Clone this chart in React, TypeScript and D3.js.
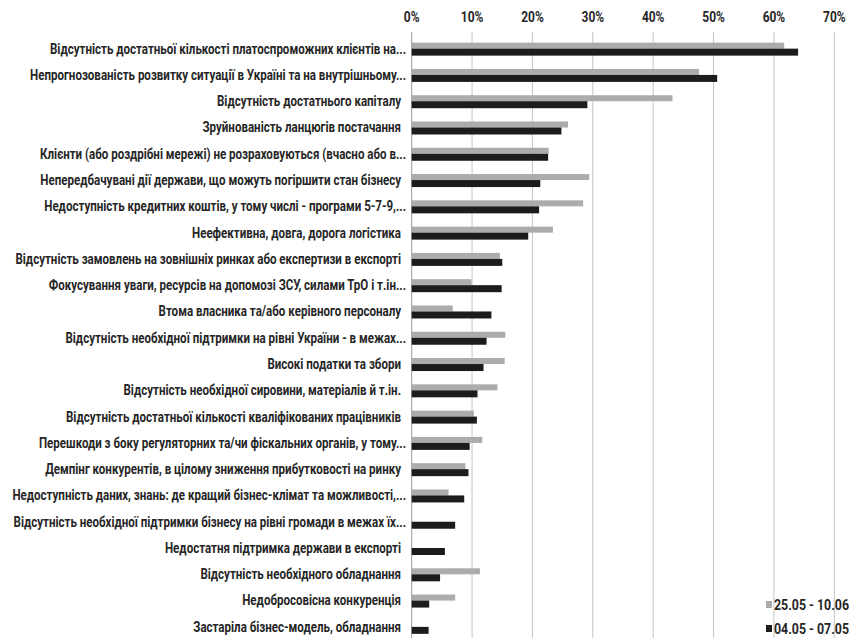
import React from "react";
import * as d3 from "d3";

const categories = [
  "Відсутність достатньої кількості платоспроможних клієнтів на...",
  "Непрогнозованість розвитку ситуації в Україні та на внутрішньому...",
  "Відсутність достатнього капіталу",
  "Зруйнованість ланцюгів постачання",
  "Клієнти (або роздрібні мережі) не розраховуються (вчасно або в...",
  "Непередбачувані дії держави, що можуть погіршити стан бізнесу",
  "Недоступність кредитних коштів, у тому числі - програми 5-7-9,...",
  "Неефективна, довга, дорога логістика",
  "Відсутність замовлень на зовнішніх ринках або експертизи в експорті",
  "Фокусування уваги, ресурсів на допомозі ЗСУ, силами ТрО і т.ін...",
  "Втома власника та/або керівного персоналу",
  "Відсутність необхідної підтримки на рівні України - в межах...",
  "Високі податки та збори",
  "Відсутність необхідної сировини, матеріалів й т.ін.",
  "Відсутність достатньої кількості кваліфікованих працівників",
  "Перешкоди з боку регуляторних та/чи фіскальних органів, у тому...",
  "Демпінг конкурентів, в цілому зниження прибутковості на ринку",
  "Недоступність даних, знань: де кращий бізнес-клімат та можливості,...",
  "Відсутність необхідної підтримки бізнесу на рівні громади в межах їх...",
  "Недостатня підтримка держави в експорті",
  "Відсутність необхідного обладнання",
  "Недобросовісна конкуренція",
  "Застаріла бізнес-модель, обладнання",
];

const series1Name = "25.05 - 10.06";
const series1 = [61.7, 47.6, 43.2, 25.9, 22.7, 29.4, 28.4, 23.4, 14.6, 9.9, 6.8, 15.5, 15.4, 14.2, 10.3, 11.7, 8.9, 6.1, 0, 0, 11.3, 7.2, 0];

const series2Name = "04.05 - 07.05";
const series2 = [64.0, 50.6, 29.1, 24.8, 22.6, 21.3, 21.1, 19.3, 15.0, 14.9, 13.2, 12.4, 11.9, 10.9, 10.8, 9.6, 9.4, 8.7, 7.2, 5.5, 4.7, 2.9, 2.8];

const ticks = [0, 10, 20, 30, 40, 50, 60, 70];

const W = 849;
const H = 638;
const FONT = "Roboto, 'Liberation Sans', sans-serif";
const SX = 0.825;

export default function App() {
  const x = d3.scaleLinear().domain([0, 70]).range([411.7, 834.3]);
  const y = d3
    .scaleBand<string>()
    .domain(categories)
    .range([35.5, 640])
    .paddingInner(0)
    .paddingOuter(0);
  const bw = y.bandwidth();
  const h1 = 6;
  const h2 = 7;

  const txt = (
    s: string,
    tx: number,
    ty: number,
    anchor: "start" | "middle" | "end",
    size: number
  ) => (
    <text
      transform={`translate(${tx},${ty}) scale(${SX},1)`}
      dy="0.35em"
      textAnchor={anchor}
      fontFamily={FONT}
      fontSize={size}
      fontWeight="bold"
      fill="#262626"
    >
      {s}
    </text>
  );

  return (
    <svg
      width={W}
      height={H}
      style={{ position: "absolute", left: 0, top: 0, background: "#fff" }}
    >
      {ticks.map((t) => (
        <g key={t}>
          <line
            x1={x(t)}
            x2={x(t)}
            y1={32}
            y2={H}
            stroke={t === 0 ? "#9a9a9a" : "#c4c4c4"}
            strokeWidth={1}
          />
          {txt(`${t}%`, x(t), 17, "middle", 14.5)}
        </g>
      ))}
      {categories.map((c, i) => {
        const cy = (y(c) as number) + bw / 2;
        const ell = c.endsWith("...");
        return (
          <g key={c}>
            {txt(c, ell ? 406 : 401, cy, "end", 14)}
            {series1[i] > 0 && (
              <rect
                x={x(0)}
                y={cy - h1}
                width={x(series1[i]) - x(0)}
                height={h1}
                fill="#acacac"
              />
            )}
            <rect
              x={x(0)}
              y={cy}
              width={x(series2[i]) - x(0)}
              height={h2}
              fill="#1c1c1c"
            />
          </g>
        );
      })}
      <g>
        <rect x={766} y={601} width={6} height={7} fill="#acacac" />
        {txt(series1Name, 774, 605, "start", 15)}
        <rect x={766} y={625} width={6} height={7} fill="#1c1c1c" />
        {txt(series2Name, 774, 629, "start", 15)}
      </g>
    </svg>
  );
}
